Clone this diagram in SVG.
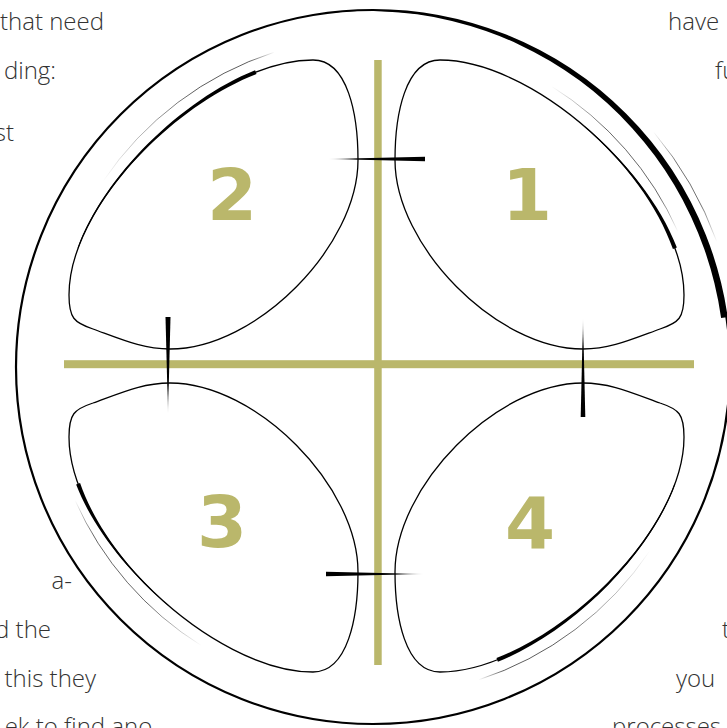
<svg xmlns="http://www.w3.org/2000/svg" width="727" height="728" viewBox="0 0 727 728">
<style>
.outline{fill:none;stroke:#000;stroke-width:1.3}
.ring{fill:none;stroke:#000;stroke-width:2.2}
.bar{fill:#bab76b}
.hair{fill:none;stroke-width:0.8}
.digit{font-family:"DejaVu Sans",sans-serif;font-weight:bold;font-size:72px;fill:#bab76b;text-anchor:middle}
.body{font-family:"Open Sans","Noto Sans",sans-serif;font-weight:300;font-size:24px;fill:#333}
.end{text-anchor:end}
</style>
<defs>
<path id="blob" class="outline" d="M395,160 C395,115 405,60 440,60 C540,60 684,195 684,295 C684,318 679,322.7 660,329 C630,340 610,349 583,349 C496.5,349 395,246 395,160 Z"/>
<path id="taperA" fill="#000" d="M584.76,126.31 C625.71,160.82 660.52,204.81 676.87,247.48 L672.93,248.92 C658.08,206.19 624.69,161.78 584.44,126.69 Z"/>
<path id="thickB" fill="#000" d="M497.93,70.24 C571.64,99.78 649.46,176.29 675.28,248.06 L674.52,248.34 C648.12,177.17 569.82,102.16 496.47,73.96 Z"/>
<linearGradient id="gHairA" gradientUnits="userSpaceOnUse" x1="551.4" y1="86.2" x2="678" y2="231.8">
<stop offset="0" stop-color="#000" stop-opacity="0"/>
<stop offset="0.35" stop-color="#000" stop-opacity="0.75"/>
<stop offset="0.8" stop-color="#000" stop-opacity="0.75"/>
<stop offset="1" stop-color="#000" stop-opacity="0"/>
</linearGradient>
<path id="hairA" class="hair" stroke="url(#gHairA)" d="M551.4,86.2 A330 330 0 0 1 678,231.8"/>
<linearGradient id="gHairB" gradientUnits="userSpaceOnUse" x1="478.5" y1="52.1" x2="650.1" y2="181.5">
<stop offset="0" stop-color="#000" stop-opacity="0"/>
<stop offset="0.12" stop-color="#000" stop-opacity="0.8"/>
<stop offset="0.4" stop-color="#000" stop-opacity="0.8"/>
<stop offset="1" stop-color="#000" stop-opacity="0"/>
</linearGradient>
<path id="hairB" class="hair" stroke="url(#gHairB)" d="M478.5,52.1 A330 330 0 0 1 650.1,181.5"/>
<linearGradient id="gHairR" gradientUnits="userSpaceOnUse" x1="653.4" y1="131.7" x2="716.9" y2="241.8">
<stop offset="0" stop-color="#000" stop-opacity="0"/>
<stop offset="0.3" stop-color="#000" stop-opacity="0.7"/>
<stop offset="0.7" stop-color="#000" stop-opacity="0.7"/>
<stop offset="1" stop-color="#000" stop-opacity="0"/>
</linearGradient>
<linearGradient id="gTickT" gradientUnits="userSpaceOnUse" x1="327" y1="0" x2="425" y2="0">
<stop offset="0" stop-color="#000" stop-opacity="0"/>
<stop offset="0.3" stop-color="#000" stop-opacity="1"/>
</linearGradient>
<linearGradient id="gTickB" gradientUnits="userSpaceOnUse" x1="425" y1="0" x2="326" y2="0">
<stop offset="0" stop-color="#000" stop-opacity="0"/>
<stop offset="0.3" stop-color="#000" stop-opacity="1"/>
</linearGradient>
<linearGradient id="gTickL" gradientUnits="userSpaceOnUse" x1="0" y1="415" x2="0" y2="317">
<stop offset="0" stop-color="#000" stop-opacity="0"/>
<stop offset="0.3" stop-color="#000" stop-opacity="1"/>
</linearGradient>
<linearGradient id="gTickR" gradientUnits="userSpaceOnUse" x1="0" y1="317" x2="0" y2="417">
<stop offset="0" stop-color="#000" stop-opacity="0"/>
<stop offset="0.3" stop-color="#000" stop-opacity="1"/>
</linearGradient>
</defs>

<g id="body-text">
<text class="body end" x="104" y="30">that need</text>
<text class="body end" x="56" y="79">ding:</text>
<text class="body end" x="14" y="141">st</text>
<text class="body end" x="72" y="589">a-</text>
<text class="body end" x="51" y="638">d the</text>
<text class="body end" x="96" y="687">this they</text>
<text class="body end" x="160" y="735">ek to find ano-</text>
<text class="body" x="668" y="30">have</text>
<text class="body" x="715" y="79">fu</text>
<text class="body" x="722" y="638">t</text>
<text class="body" x="676" y="687">you</text>
<text class="body" x="612" y="735">processes</text>
</g>

<g id="ring">
<circle class="ring" cx="373" cy="367" r="357"/>
<path fill="#000" d="M311.0,15.4 A357 357 0 0 1 726.5,317.3 L721.1,318.1 A356.85 356.85 0 0 0 311.0,15.4 Z"/>
<path class="hair" stroke="url(#gHairR)" d="M653.4,131.7 A366 366 0 0 1 716.9,241.8"/>
</g>

<g id="axes">
<rect class="bar" x="374.2" y="60" width="7.5" height="605"/>
<rect class="bar" x="64" y="360.2" width="630" height="8"/>
</g>

<g id="blob-1">
<use href="#blob"/>
<use href="#taperA"/>
<use href="#hairA"/>
<text class="digit" x="527" y="220">1</text>
</g>
<g id="blob-2">
<g transform="matrix(-1 0 0 1 753 0)">
<use href="#blob"/>
<use href="#thickB"/>
<use href="#hairB"/>
</g>
<text class="digit" x="232" y="220">2</text>
</g>
<g id="blob-3">
<g transform="matrix(-1 0 0 -1 753 732)">
<use href="#blob"/>
<use href="#taperA"/>
<use href="#hairA"/>
</g>
<text class="digit" x="222" y="547">3</text>
</g>
<g id="blob-4">
<g transform="matrix(1 0 0 -1 0 732)">
<use href="#blob"/>
<use href="#thickB"/>
<use href="#hairB"/>
</g>
<text class="digit" x="530" y="548">4</text>
</g>

<g id="connectors">
<polygon fill="url(#gTickT)" points="327,159 425,156.8 425,161.2"/>
<polygon fill="url(#gTickL)" points="165.5,317 170.5,317 168,415"/>
<polygon fill="url(#gTickR)" points="583,317 580.7,417 585.3,417"/>
<polygon fill="url(#gTickB)" points="326,571.8 326,576.2 425,574"/>
</g>
</svg>
